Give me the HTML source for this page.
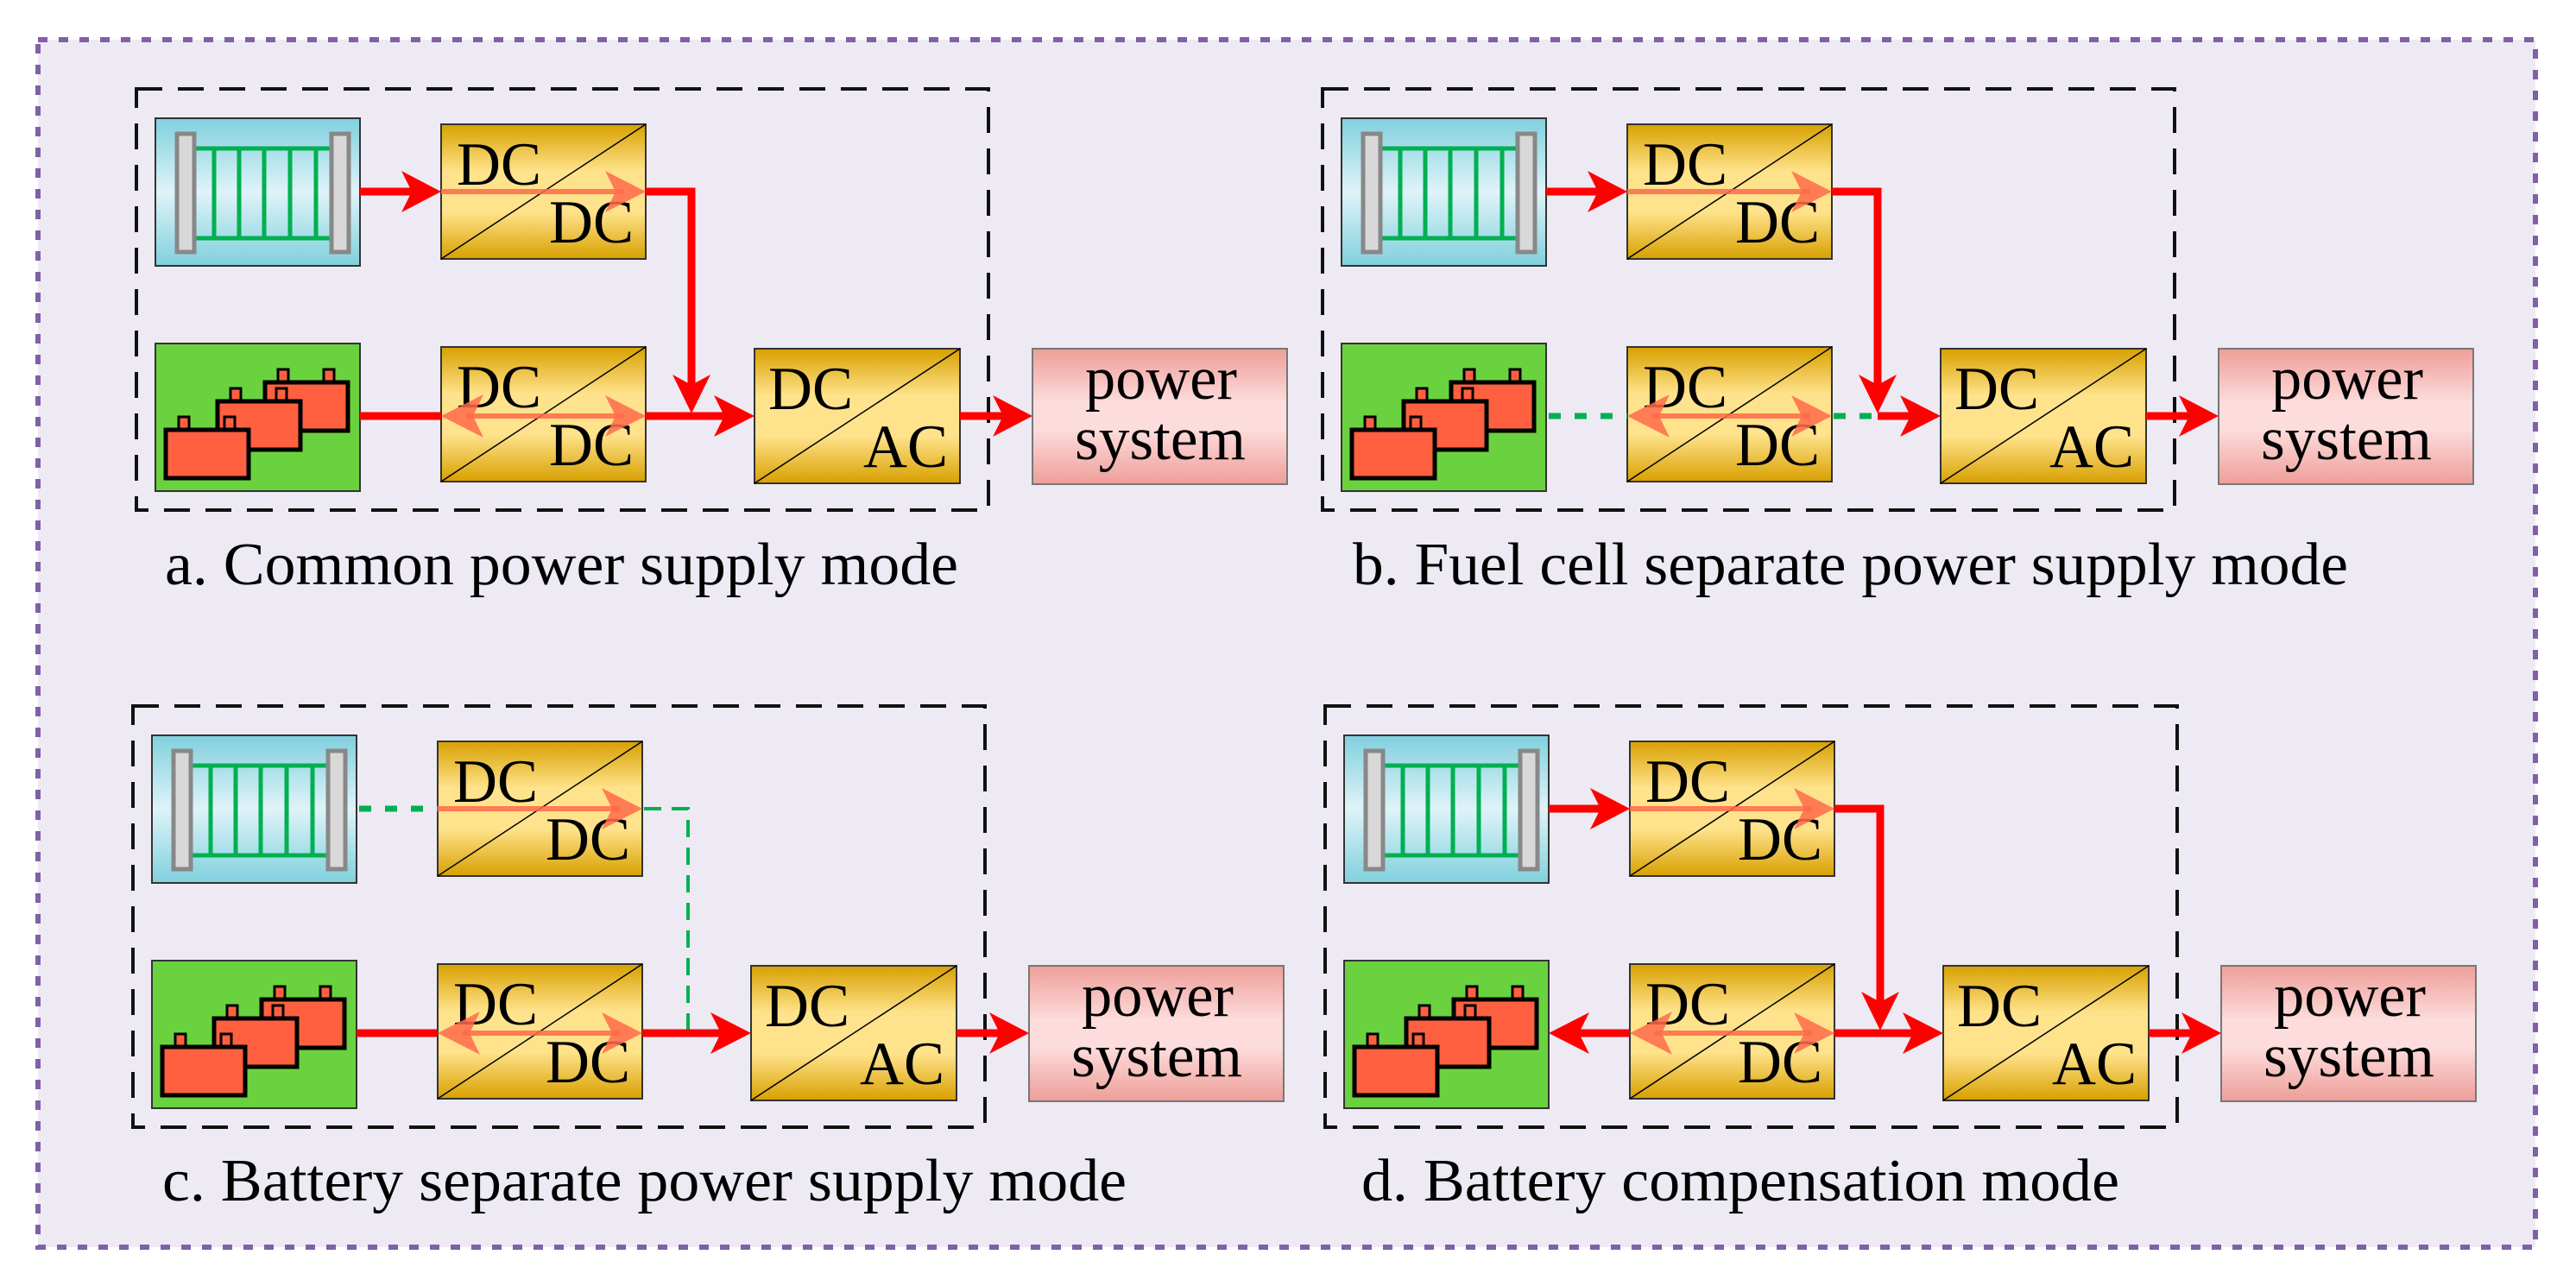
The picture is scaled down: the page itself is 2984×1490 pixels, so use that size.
<!DOCTYPE html>
<html><head><meta charset="utf-8"><style>
html,body{margin:0;padding:0;background:#fff;}
svg{display:block;}
</style></head><body>
<svg width="2984" height="1490" viewBox="0 0 2984 1490" xmlns="http://www.w3.org/2000/svg" font-family="'Liberation Serif', 'Times New Roman', serif">
<defs>
<linearGradient id="gold" x1="0" y1="0" x2="0" y2="1">
<stop offset="0" stop-color="#d8a000"/><stop offset="0.35" stop-color="#ffe38c"/><stop offset="0.65" stop-color="#ffe38c"/><stop offset="1" stop-color="#d8a000"/></linearGradient>
<linearGradient id="pink" x1="0" y1="0" x2="0" y2="1">
<stop offset="0" stop-color="#ee9e98"/><stop offset="0.4" stop-color="#fcdcdc"/><stop offset="0.6" stop-color="#fcdcdc"/><stop offset="1" stop-color="#ee9e98"/></linearGradient>
<linearGradient id="blue" x1="0" y1="0" x2="0" y2="1">
<stop offset="0" stop-color="#80d0de"/><stop offset="0.5" stop-color="#dff3f8"/><stop offset="1" stop-color="#80d0de"/></linearGradient>
<g id="fc">
<rect x="180" y="137" width="237" height="171" fill="url(#blue)" stroke="#333" stroke-width="2"/>
<g stroke="#00b050" stroke-width="5" fill="none">
<line x1="226" y1="172" x2="383" y2="172"/><line x1="226" y1="276" x2="383" y2="276"/>
<line x1="248" y1="172" x2="248" y2="276"/><line x1="277" y1="172" x2="277" y2="276"/><line x1="306" y1="172" x2="306" y2="276"/><line x1="336" y1="172" x2="336" y2="276"/><line x1="366" y1="172" x2="366" y2="276"/>
</g>
<rect x="205" y="155" width="20" height="137" fill="#d8d8d8" stroke="#888" stroke-width="5"/>
<rect x="384" y="155" width="20" height="137" fill="#d8d8d8" stroke="#888" stroke-width="5"/>
</g>
<g id="batt1">
<rect x="15" y="-15" width="12" height="15" fill="#fe6040" stroke="#000" stroke-width="3"/>
<rect x="68" y="-15" width="12" height="15" fill="#fe6040" stroke="#000" stroke-width="3"/>
<rect x="0" y="0" width="96" height="56" fill="#fe6040" stroke="#000" stroke-width="5"/>
</g>
<g id="bat">
<rect x="180" y="398" width="237" height="171" fill="#6ad23e" stroke="#333" stroke-width="2"/>
<use href="#batt1" transform="translate(307,443)"/>
<use href="#batt1" transform="translate(252,465)"/>
<use href="#batt1" transform="translate(192,498)"/>
</g>
<g id="dd1">
<rect x="511" y="144" width="237" height="156" fill="url(#gold)" stroke="#333" stroke-width="2"/>
<line x1="511" y1="300" x2="748" y2="144" stroke="#000" stroke-width="1.5"/>
</g>
<g id="dd2">
<rect x="511" y="402" width="237" height="156" fill="url(#gold)" stroke="#333" stroke-width="2"/>
<line x1="511" y1="558" x2="748" y2="402" stroke="#000" stroke-width="1.5"/>
</g>
<g id="da">
<rect x="874" y="404" width="238" height="156" fill="url(#gold)" stroke="#333" stroke-width="2"/>
<line x1="874" y1="560" x2="1112" y2="404" stroke="#000" stroke-width="1.5"/>
</g>
<g id="ps">
<rect x="1196" y="404" width="295" height="157" fill="url(#pink)" stroke="#777" stroke-width="2"/>
</g>
<g id="frame">
<rect x="158" y="103" width="987" height="488" fill="none" stroke="#111" stroke-width="4" stroke-dasharray="30 18"/>
</g>
<g id="inR">
<line x1="511" y1="222" x2="722" y2="222" stroke="#ff6a4a" stroke-width="6" opacity="0.85"/>
<polygon points="748,222 701,198 713,222 701,246" fill="#ff6a4a" opacity="0.85"/>
</g>
<g id="inLR">
<line x1="540" y1="482" x2="722" y2="482" stroke="#ff6a4a" stroke-width="6" opacity="0.85"/>
<polygon points="748,482 701,458 713,482 701,506" fill="#ff6a4a" opacity="0.85"/>
<polygon points="511,482 560,457 548,482 560,507" fill="#ff6a4a" opacity="0.85"/>
</g>
<g id="redTop">
<line x1="417" y1="222" x2="480" y2="222" stroke="#f00" stroke-width="9"/>
<polygon points="511,222 465,198 477,222 465,246" fill="#f00"/>
</g>
<g id="redDown">
<polyline points="748,222 801,222 801,450" fill="none" stroke="#f00" stroke-width="9"/>
<polygon points="801,479 779,434 801,446 823,434" fill="#f00"/>
</g>
<g id="toAC">
<line x1="748" y1="482" x2="845" y2="482" stroke="#f00" stroke-width="9"/>
<polygon points="874,482 827,458 839,482 827,506" fill="#f00"/>
</g>
<g id="toPS">
<line x1="1112" y1="482" x2="1165" y2="482" stroke="#f00" stroke-width="9"/>
<polygon points="1196,482 1150,458 1162,482 1150,506" fill="#f00"/>
</g>
<g id="labels" font-family="'Liberation Serif', 'Times New Roman', serif" fill="#000">
<text x="529" y="214" font-size="71" textLength="98" lengthAdjust="spacingAndGlyphs">DC</text>
<text x="636" y="281" font-size="71" textLength="98" lengthAdjust="spacingAndGlyphs">DC</text>
<text x="529" y="472" font-size="71" textLength="98" lengthAdjust="spacingAndGlyphs">DC</text>
<text x="636" y="539" font-size="71" textLength="98" lengthAdjust="spacingAndGlyphs">DC</text>
<text x="890" y="474" font-size="71" textLength="98" lengthAdjust="spacingAndGlyphs">DC</text>
<text x="1000" y="541" font-size="71" textLength="98" lengthAdjust="spacingAndGlyphs">AC</text>
<text x="1257" y="462" font-size="71" textLength="176" lengthAdjust="spacingAndGlyphs">power</text>
<text x="1245" y="532" font-size="71" textLength="198" lengthAdjust="spacingAndGlyphs">system</text>
</g>
</defs>

<rect x="44" y="46" width="2893" height="1399" fill="#eeeaf4" stroke="#8060a8" stroke-width="6" stroke-dasharray="11 13"/>

<!-- a -->
<g>
<use href="#frame"/><use href="#fc"/><use href="#bat"/><use href="#dd1"/><use href="#dd2"/><use href="#da"/><use href="#ps"/>
<use href="#labels"/>
<use href="#redTop"/><use href="#inR"/><use href="#redDown"/>
<line x1="417" y1="482" x2="511" y2="482" stroke="#f00" stroke-width="9"/>
<use href="#inLR"/><use href="#toAC"/><use href="#toPS"/>
</g>
<!-- b -->
<g transform="translate(1374,0)">
<use href="#frame"/><use href="#fc"/><use href="#bat"/><use href="#dd1"/><use href="#dd2"/><use href="#da"/><use href="#ps"/>
<use href="#labels"/>
<use href="#redTop"/><use href="#inR"/>
<line x1="420" y1="482" x2="511" y2="482" stroke="#00b050" stroke-width="7" stroke-dasharray="14 16"/>
<line x1="750" y1="482" x2="800" y2="482" stroke="#00b050" stroke-width="7" stroke-dasharray="14 16"/>
<use href="#inLR"/><use href="#redDown"/>
<line x1="801" y1="482" x2="845" y2="482" stroke="#f00" stroke-width="9"/>
<polygon points="874,482 827,458 839,482 827,506" fill="#f00"/>
<use href="#toPS"/>
</g>
<!-- c -->
<g transform="translate(-4,715)">
<use href="#frame"/><use href="#fc"/><use href="#bat"/><use href="#dd1"/><use href="#dd2"/><use href="#da"/><use href="#ps"/>
<use href="#labels"/>
<line x1="420" y1="222" x2="511" y2="222" stroke="#00b050" stroke-width="7" stroke-dasharray="14 16"/>
<use href="#inR"/>
<polyline points="750,222 801,222 801,482" fill="none" stroke="#00b050" stroke-width="4" stroke-dasharray="20 12"/>
<line x1="417" y1="482" x2="511" y2="482" stroke="#f00" stroke-width="9"/>
<use href="#inLR"/><use href="#toAC"/><use href="#toPS"/>
</g>
<!-- d -->
<g transform="translate(1377,715)">
<use href="#frame"/><use href="#fc"/><use href="#bat"/><use href="#dd1"/><use href="#dd2"/><use href="#da"/><use href="#ps"/>
<use href="#labels"/>
<use href="#redTop"/><use href="#inR"/><use href="#redDown"/>
<line x1="450" y1="482" x2="511" y2="482" stroke="#f00" stroke-width="9"/>
<polygon points="417,482 464,458 452,482 464,506" fill="#f00"/>
<use href="#inLR"/><use href="#toAC"/><use href="#toPS"/>
</g>

<g font-family="'Liberation Serif', 'Times New Roman', serif" fill="#000">
<text x="191" y="677" font-size="70" textLength="919" lengthAdjust="spacingAndGlyphs">a. Common power supply mode</text>
<text x="1567" y="677" font-size="70" textLength="1153" lengthAdjust="spacingAndGlyphs">b. Fuel cell separate power supply mode</text>
<text x="188" y="1391" font-size="70" textLength="1117" lengthAdjust="spacingAndGlyphs">c. Battery separate power supply mode</text>
<text x="1577" y="1391" font-size="70" textLength="878" lengthAdjust="spacingAndGlyphs">d. Battery compensation mode</text>
</g>
</svg>
</body></html>
